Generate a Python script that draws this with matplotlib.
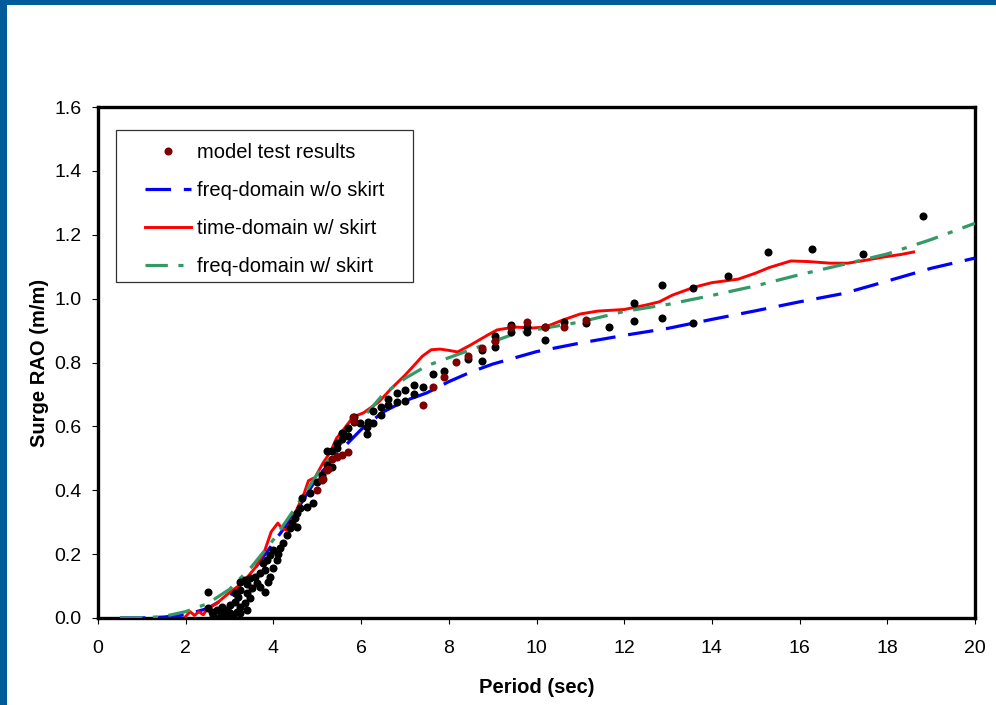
import matplotlib
matplotlib.use("Agg")
import matplotlib.pyplot as plt
from matplotlib.patches import Rectangle
from matplotlib.lines import Line2D

plt.rcParams['font.family'] = ['Liberation Sans', 'DejaVu Sans']

# ---------------- data ----------------
blue_x = [0.5, 1.0, 1.5, 2.0, 2.5, 3.0, 3.5, 4.0, 4.5, 5.0, 5.5, 6.0, 6.5, 7.0, 7.5,
          8.0, 8.5, 9.0, 10.0, 11.0, 12.0, 13.0, 14.0, 15.0, 16.0, 17.0, 18.0, 19.0, 20.0]
blue_y = [0.0, 0.0, 0.003, 0.01, 0.03, 0.07, 0.14, 0.235, 0.33, 0.44, 0.52, 0.59, 0.645, 0.68, 0.705,
          0.74, 0.77, 0.795, 0.834, 0.861, 0.885, 0.907, 0.935, 0.962, 0.99, 1.016, 1.055, 1.095, 1.127]

green_x = [0.5, 1.0, 1.5, 2.0, 2.5, 3.0, 3.5, 4.0, 4.5, 5.0, 5.5, 6.0, 6.5, 7.0, 7.5, 8.0,
           8.5, 9.0, 9.5, 10.0, 11.0, 12.0, 13.0, 14.0, 15.0, 16.0, 17.0, 18.0, 19.0, 20.0]
green_y = [0.0, 0.0, 0.005, 0.02, 0.045, 0.09, 0.16, 0.245, 0.345, 0.45, 0.54, 0.62, 0.70, 0.75, 0.79, 0.815,
           0.84, 0.865, 0.89, 0.903, 0.927, 0.96, 0.982, 1.01, 1.04, 1.075, 1.107, 1.14, 1.185, 1.236]

red_x = [2.0, 2.1, 2.2, 2.3, 2.4, 2.5, 2.7, 3.0, 3.3, 3.6, 3.8, 3.95, 4.1, 4.2, 4.3, 4.5,
         4.7, 4.8, 4.95, 5.13, 5.3, 5.44, 5.6, 5.82, 6.05, 6.4, 6.7, 7.0, 7.2, 7.4, 7.6, 7.8,
         8.0, 8.2, 8.5, 8.9, 9.1, 9.5, 9.9, 10.2, 10.6, 11.0, 11.4, 12.0, 12.5, 12.8, 13.1,
         13.6, 14.0, 14.6, 15.0, 15.3, 15.8, 16.2, 16.7, 17.1, 17.5, 17.9, 18.3, 18.6]
red_y = [0.005, 0.02, 0.008, 0.02, 0.01, 0.03, 0.045, 0.08, 0.11, 0.16, 0.21, 0.27, 0.297, 0.28, 0.275, 0.33,
         0.39, 0.43, 0.44, 0.485, 0.52, 0.563, 0.59, 0.63, 0.642, 0.676, 0.72, 0.76, 0.79, 0.82, 0.84, 0.842,
         0.838, 0.833, 0.855, 0.887, 0.902, 0.911, 0.908, 0.911, 0.933, 0.952, 0.961, 0.966, 0.98, 0.99, 1.011,
         1.036, 1.05, 1.061, 1.08, 1.097, 1.118, 1.116, 1.111, 1.111, 1.12, 1.13, 1.138, 1.146]

black_x = [2.51, 2.51, 2.60, 2.62, 2.71, 2.78, 2.83, 2.85, 2.94, 2.94, 3.01, 3.01, 3.08, 3.12, 3.12,
           3.17, 3.19, 3.24, 3.24, 3.24, 3.24, 3.35, 3.35, 3.40, 3.40, 3.40, 3.47, 3.47, 3.51, 3.58,
           3.63, 3.69, 3.69, 3.76, 3.81, 3.81, 3.85, 3.88, 3.92, 3.92, 4.0, 4.0, 4.08, 4.10, 4.15,
           4.22, 4.31, 4.38, 4.42, 4.49, 4.53, 4.53, 4.6, 4.65, 4.76, 4.83, 4.90, 4.99, 5.11, 5.11,
           5.22, 5.22, 5.34, 5.34, 5.45, 5.45, 5.56, 5.56, 5.59, 5.70, 5.70, 5.84, 5.84, 5.97, 6.13,
           6.13, 6.16, 6.27, 6.27, 6.45, 6.45, 6.62, 6.62, 6.82, 6.82, 7.0, 7.0, 7.2, 7.2, 7.41,
           7.64, 7.89, 8.44, 8.76, 8.76, 9.05, 9.05, 9.42, 9.42, 9.78, 9.78, 10.19, 10.19, 10.63,
           11.13, 11.65, 12.22, 12.22, 12.86, 12.86, 13.57, 13.57, 14.37, 15.28, 16.28, 17.45, 18.81]
black_y = [0.081, 0.031, 0.019, 0.009, 0.025, 0.003, 0.034, 0.016, 0.025, 0.003, 0.041, 0.016, 0.009, 0.05, 0.078,
           0.019, 0.066, 0.034, 0.016, 0.088, 0.113, 0.047, 0.119, 0.078, 0.025, 0.106, 0.063, 0.125, 0.094, 0.128,
           0.11, 0.097, 0.141, 0.172, 0.081, 0.15, 0.182, 0.113, 0.128, 0.197, 0.157, 0.213, 0.182, 0.2, 0.219,
           0.235, 0.26, 0.282, 0.297, 0.313, 0.285, 0.329, 0.344, 0.376, 0.348, 0.391, 0.36, 0.426, 0.448, 0.438,
           0.523, 0.479, 0.523, 0.473, 0.548, 0.532, 0.58, 0.56, 0.576, 0.595, 0.57, 0.629, 0.614, 0.61, 0.598,
           0.576, 0.614, 0.648, 0.611, 0.661, 0.636, 0.686, 0.667, 0.704, 0.676, 0.714, 0.679, 0.729, 0.701, 0.723,
           0.764, 0.773, 0.811, 0.839, 0.805, 0.883, 0.849, 0.917, 0.895, 0.911, 0.896, 0.911, 0.87, 0.927,
           0.924, 0.911, 0.986, 0.93, 1.043, 0.939, 1.033, 0.923, 1.071, 1.146, 1.155, 1.14, 1.259]

darkred_x = [4.99, 5.11, 5.13, 5.22, 5.24, 5.34, 5.45, 5.56, 5.70, 5.84, 5.82, 7.41, 7.64, 7.89, 8.16,
             8.44, 8.76, 9.05, 9.42, 9.78, 10.19, 10.63, 11.13]
darkred_y = [0.40, 0.432, 0.435, 0.463, 0.466, 0.498, 0.505, 0.51, 0.52, 0.617, 0.63, 0.667, 0.723, 0.755, 0.801,
             0.82, 0.845, 0.867, 0.911, 0.927, 0.911, 0.911, 0.933]

x_ticks = [0, 2, 4, 6, 8, 10, 12, 14, 16, 18, 20]
y_ticks = [0.0, 0.2, 0.4, 0.6, 0.8, 1.0, 1.2, 1.4, 1.6]
x_label = "Period (sec)"
y_label = "Surge RAO (m/m)"
labels = ["model test results", "freq-domain w/o skirt", "time-domain w/ skirt", "freq-domain w/ skirt"]

# ---------------- figure ----------------
W, H = 996, 705
fig = plt.figure(figsize=(W / 100, H / 100), dpi=100, facecolor='white')

# slide frame (blue bands top and left)
frame_col = '#005b9a'
fig.patches.append(Rectangle((0, 1 - 5 / H), 1, 5 / H, transform=fig.transFigure,
                             facecolor=frame_col, edgecolor='none', zorder=0))
fig.patches.append(Rectangle((0, 0), 7 / W, 1, transform=fig.transFigure,
                             facecolor=frame_col, edgecolor='none', zorder=0))

ax = fig.add_axes([98 / W, (H - 618) / H, (975 - 98) / W, (618 - 107) / H])

ax.plot(blue_x, blue_y, color='#0000ff', lw=2.3, dashes=(8, 4), zorder=3)
ax.plot(red_x, red_y, color='#ff0000', lw=2.1, zorder=3)
ax.plot(green_x, green_y, color='#339966', lw=2.3, dashes=(7, 3.3, 1.6, 3.3), zorder=3)
ax.plot(black_x, black_y, 'o', color='black', ms=5.8, mec='none', zorder=4)
ax.plot(darkred_x, darkred_y, 'o', color='#800000', ms=5.8, mec='none', zorder=4)

ax.set_xlim(0, 20)
ax.set_ylim(0, 1.6)
ax.set_xticks(x_ticks)
ax.set_yticks(y_ticks)
ax.set_yticklabels([f"{v:.1f}" for v in y_ticks])
ax.tick_params(axis='both', direction='out', length=4, width=0.8, labelsize=14, color='black')
ax.tick_params(axis='x', pad=12)
ax.tick_params(axis='y', pad=8)
for s in ax.spines.values():
    s.set_linewidth(2.4)
    s.set_color('black')

ax.set_xlabel(x_label, fontsize=14.5, fontweight='bold', labelpad=15)
ax.set_ylabel(y_label, fontsize=14.5, fontweight='bold', labelpad=4)

# legend frame
ax.add_patch(Rectangle((18 / 877, (618 - 282) / 511), 297 / 877, 152 / 511, transform=ax.transAxes,
                       facecolor='white', edgecolor='#333333', lw=0.9, zorder=5))
handles = [
    Line2D([], [], ls='none', marker='o', color='#800000', ms=5.8, mec='none'),
    Line2D([], [], color='#0000ff', lw=2.3, dashes=(8, 4)),
    Line2D([], [], color='#ff0000', lw=2.1),
    Line2D([], [], color='#339966', lw=2.3, dashes=(7, 3.3, 1.6, 3.3)),
]
leg = ax.legend(handles, labels, loc='upper left', bbox_to_anchor=((145 - 98) / 877, (618 - 143) / 511),
                borderaxespad=0, borderpad=0, frameon=False, fontsize=14.5,
                handlelength=2.3, handletextpad=0.3, labelspacing=0.95)
leg.set_zorder(6)

fig.savefig('out.png', dpi=100, facecolor='white')
